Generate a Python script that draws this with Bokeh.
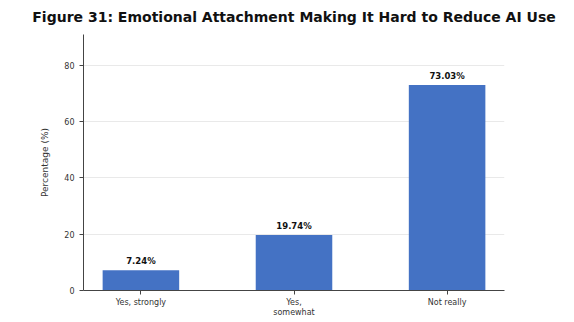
from bokeh.plotting import figure
from bokeh.models import Range1d, FixedTicker, ColumnDataSource
from bokeh.embed import file_html
from bokeh.resources import INLINE
from bokeh.core.properties import value

title_text = "Figure 31: Emotional Attachment Making It Hard to Reduce AI Use"
categories = ["Yes, strongly", "Yes,\nsomewhat", "Not really"]
percentages = [7.24, 19.74, 73.03]
value_labels = ["7.24%", "19.74%", "73.03%"]
y_ticks = [0, 20, 40, 60, 80]

xs = list(range(len(categories)))
src = ColumnDataSource(dict(x=xs, top=percentages, label=value_labels))

p = figure(width=558, height=320, output_backend="svg", toolbar_location=None,
           x_range=Range1d(-0.375, 2.375), y_range=Range1d(0, 91),
           min_border_left=83, min_border_right=54, min_border_top=33, min_border_bottom=20)

p.title.text = title_text
p.title.align = "center"
p.title.vertical_align = "top"
p.title.text_font = "DejaVu Sans"
p.title.text_font_size = "14px"
p.title.text_font_style = "bold"
p.title.text_color = "#111111"
p.title.offset = 0
p.title.standoff = 16

p.vbar(x="x", top="top", width=0.5, bottom=0, source=src, fill_color="#4472C4", line_color=None)
p.text(x="x", y="top", text="label", source=src, text_align="center", text_baseline="bottom",
       y_offset=-4, text_font=value("DejaVu Sans"), text_font_size="8.5px", text_font_style="bold",
       text_color="#111111")

p.outline_line_color = None
p.xgrid.grid_line_color = None
p.ygrid.grid_line_color = "#e9e9e9"
p.ygrid.grid_line_width = 1

p.xaxis.ticker = FixedTicker(ticks=xs)
p.xaxis.major_label_overrides = {i: c for i, c in zip(xs, categories)}
p.yaxis.ticker = FixedTicker(ticks=y_ticks)
p.xaxis.minor_tick_line_color = None
p.yaxis.minor_tick_line_color = None
for ax in (p.xaxis, p.yaxis):
    ax.axis_line_color = "#444444"
    ax.major_tick_line_color = "#444444"
    ax.major_tick_out = 4
    ax.major_tick_in = 0
    ax.major_label_text_font = "DejaVu Sans"
    ax.major_label_text_font_size = "8px"
    ax.major_label_text_color = "#333333"
p.xaxis.major_label_standoff = 3
p.yaxis.major_label_standoff = 5
p.yaxis.axis_label = "Percentage (%)"
p.yaxis.axis_label_text_font = "DejaVu Sans"
p.yaxis.axis_label_text_font_size = "9px"
p.yaxis.axis_label_text_font_style = "normal"
p.yaxis.axis_label_text_color = "#333333"
p.yaxis.axis_label_standoff = 11

open("out.html", "w").write(file_html(p, INLINE))
